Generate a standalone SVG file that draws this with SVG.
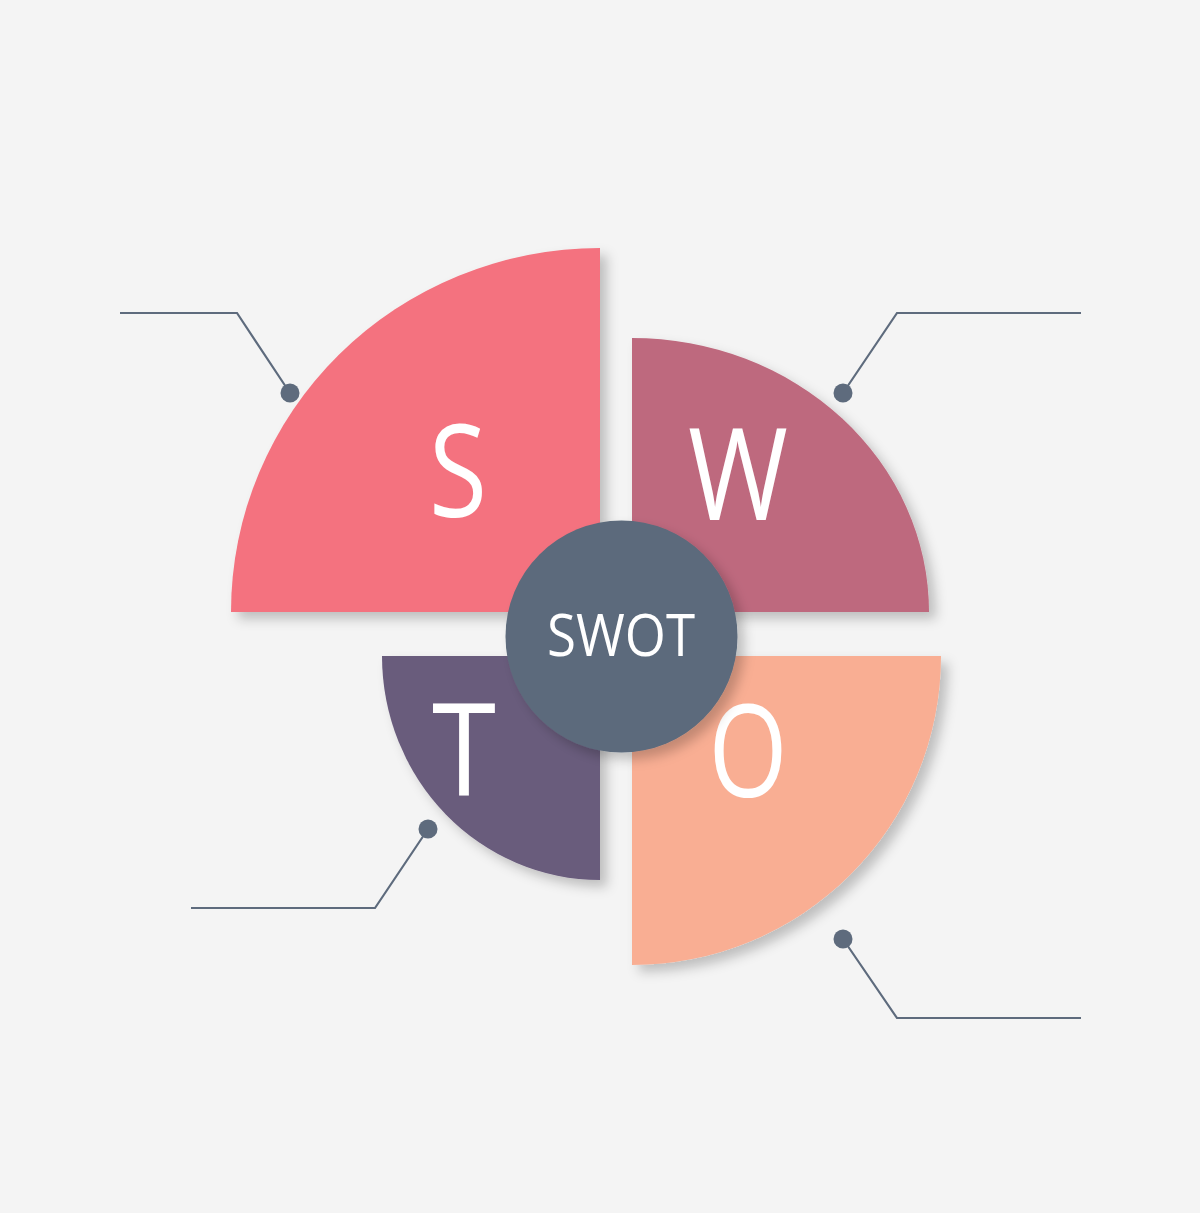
<svg xmlns="http://www.w3.org/2000/svg" width="1200" height="1213" viewBox="0 0 1200 1213">
<defs>
<filter id="sh" x="-20%" y="-20%" width="150%" height="150%">
<feDropShadow dx="7" dy="7" stdDeviation="6" flood-color="#000" flood-opacity="0.22"/>
</filter>
<style>
.conn{fill:none;stroke:#5E6B7D;stroke-width:2.2;stroke-linejoin:miter}
.dot{fill:#5E6B7D}
.big{font-family:"Open Sans","Noto Sans","Liberation Sans",sans-serif;font-size:128px;fill:#FFFFFF;text-anchor:middle}
.mid{font-family:"Open Sans","Noto Sans","Liberation Sans",sans-serif;font-size:58px;fill:#FFFFFF;text-anchor:middle}
</style>
</defs>
<rect width="1200" height="1213" fill="#F4F4F4"/>
<g id="connectors">
<polyline class="conn" points="120,313 237,313 290,393"/>
<circle class="dot" cx="290" cy="393" r="9.5"/>
<polyline class="conn" points="1081,313 897,313 843,393"/>
<circle class="dot" cx="843" cy="393" r="9.5"/>
<polyline class="conn" points="191,908 375,908 428,829"/>
<circle class="dot" cx="428" cy="829" r="9.5"/>
<polyline class="conn" points="1081,1018 897,1018 843,939"/>
<circle class="dot" cx="843" cy="939" r="9.5"/>
</g>
<g id="node-S">
<path d="M600,612 L231,612 A369,364 0 0 1 600,248 Z" fill="#F4727F" filter="url(#sh)"/>
<text class="big" x="458" y="517" textLength="58" lengthAdjust="spacingAndGlyphs">S</text>
</g>
<g id="node-W">
<path d="M632,612 L632,338 A297,274 0 0 1 929,612 Z" fill="#BE697E" filter="url(#sh)"/>
<text class="big" x="738" y="520" textLength="100" lengthAdjust="spacingAndGlyphs">W</text>
</g>
<g id="node-T">
<path d="M600,656 L600,880 A218,224 0 0 1 382,656 Z" fill="#695B7C" filter="url(#sh)"/>
<text class="big" x="464" y="795" textLength="64" lengthAdjust="spacingAndGlyphs">T</text>
</g>
<g id="node-O">
<path d="M632,656 L941,656 A309,309 0 0 1 632,965 Z" fill="#F9AE93" filter="url(#sh)"/>
<text class="big" x="748" y="797" textLength="79" lengthAdjust="spacingAndGlyphs">O</text>
</g>
<g id="node-SWOT">
<circle cx="621.5" cy="636.5" r="116" fill="#5C6B7C" filter="url(#sh)"/>
<text class="mid" x="621" y="656" textLength="148" lengthAdjust="spacingAndGlyphs">SWOT</text>
</g>
</svg>
